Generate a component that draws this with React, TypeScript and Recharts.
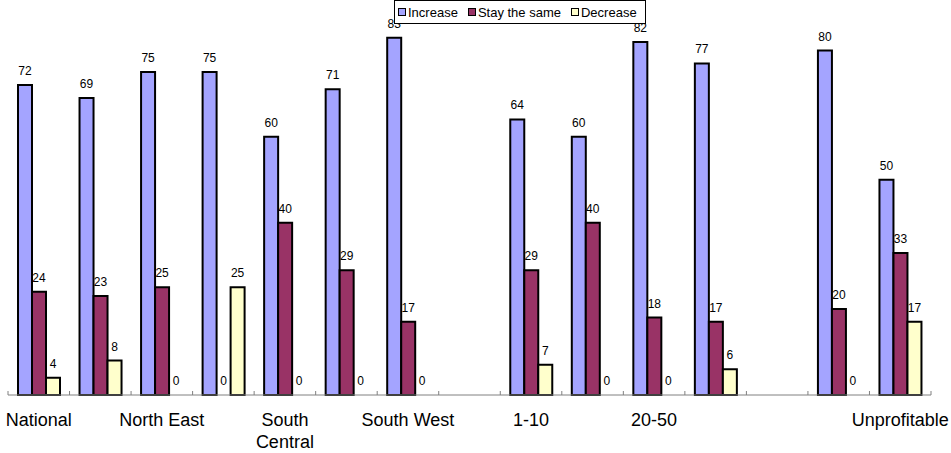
import { BarChart, Bar, XAxis, YAxis, Legend, LabelList, Cell } from "recharts";

// categories (Excel only printed every second label)
const categories = [
  "National", "", "North East", "", "South Central", "", "South West", "",
  "1-10", "", "20-50", "", "", "", "Unprofitable",
];
const increase = [72, 69, 75, 75, 60, 71, 83, null, 64, 60, 82, 77, null, 80, 50];
const staySame = [24, 23, 25, 0, 40, 29, 17, null, 29, 40, 18, 17, null, 20, 33];
const decrease = [4, 8, 0, 25, 0, 0, 0, null, 7, 0, 0, 6, null, 0, 17];
const seriesNames = ["Increase", "Stay the same", "Decrease"];

const W = 951;
const H = 453;
const MARGIN = { top: 7.5, right: 20, bottom: 0, left: 8 };
const BAND = (W - MARGIN.left - MARGIN.right) / categories.length;
const FONT = '"Liberation Sans", Arial, sans-serif';

const data = categories.map((name, i) => ({
  name,
  increase: increase[i],
  same: staySame[i],
  decrease: decrease[i],
}));

// tick marks sit on the category boundaries, pointing up into the plot
const CategoryTick = (props: any) => {
  const { x, y, payload, index } = props;
  const last = index === categories.length - 1;
  const label: string = payload.value || "";
  // long labels wrap onto two lines like in Excel
  const lines = label.length * 9 > 100 && label.includes(" ") ? label.split(" ") : [label];
  return (
    <g>
      <line x1={x - BAND / 2} x2={x - BAND / 2} y1={y} y2={y - 4} stroke="#808080" />
      {last && <line x1={x + BAND / 2} x2={x + BAND / 2} y1={y} y2={y - 4} stroke="#808080" />}
      {label && (
        <text x={x} y={y + 31} textAnchor="middle" fontSize={18} fontFamily={FONT} fill="#000">
          {lines.map((l, i) => (
            <tspan key={i} x={x} dy={i === 0 ? 0 : 22}>
              {l}
            </tspan>
          ))}
        </text>
      )}
    </g>
  );
};

const LegendBox = ({ payload }: any) => {
  const items = [...(payload || [])].sort(
    (a: any, b: any) => seriesNames.indexOf(a.value) - seriesNames.indexOf(b.value)
  );
  return (
    <div
      style={{
        display: "flex",
        alignItems: "center",
        height: "100%",
        boxSizing: "border-box",
        border: "1px solid #000",
        background: "#fff",
        paddingLeft: 3,
        fontFamily: FONT,
        fontSize: 13,
        color: "#000",
        whiteSpace: "nowrap",
      }}
    >
      {items.map((p: any, i: number) => (
        <span key={i} style={{ display: "flex", alignItems: "center", marginRight: 10 }}>
          <span
            style={{
              width: 8,
              height: 8,
              boxSizing: "border-box",
              border: "1.5px solid #000",
              background: p.color,
              marginRight: 2,
            }}
          />
          {p.value}
        </span>
      ))}
    </div>
  );
};

// value label above each bar, zeros included
const renderValue = (props: any) => {
  const { x, y, width, value } = props;
  if (value === null || value === undefined) return null;
  return (
    <text
      x={Number(x) + Number(width) / 2}
      y={Number(y) - 10}
      textAnchor="middle"
      fontSize={12}
      fontFamily={FONT}
      fill="#000"
    >
      {value}
    </text>
  );
};

// zero bars get a hairline height so their label is kept, but no outline
const zeroMin = (value: any) => (value === 0 ? 0.01 : 0);

const outlineCells = (values: (number | null)[]) =>
  values.map((v, i) => <Cell key={i} stroke={v === 0 ? "none" : "#000"} />);

export default function App() {
  return (
    <div style={{ position: "absolute", left: 0, top: 0 }}>
      <BarChart width={W} height={H} data={data} margin={MARGIN} barGap={0}>
        <XAxis
          dataKey="name"
          interval={0}
          tickSize={0}
          tickMargin={0}
          tickLine={false}
          height={58}
          axisLine={{ stroke: "#808080" }}
          tick={<CategoryTick />}
        />
        <YAxis hide domain={[0, 90]} />
        <Legend
          layout="horizontal"
          verticalAlign="middle"
          align="center"
          content={<LegendBox />}
          wrapperStyle={{ left: 394, top: 0, width: 252, height: 24 }}
        />
        <Bar dataKey="increase" name="Increase" fill="#A4A4FF" stroke="#000" strokeWidth={2} barSize={14} minPointSize={zeroMin} isAnimationActive={false}>
          {outlineCells(increase)}
          <LabelList dataKey="increase" content={renderValue} />
        </Bar>
        <Bar dataKey="same" name="Stay the same" fill="#993366" stroke="#000" strokeWidth={2} barSize={14} minPointSize={zeroMin} isAnimationActive={false}>
          {outlineCells(staySame)}
          <LabelList dataKey="same" content={renderValue} />
        </Bar>
        <Bar dataKey="decrease" name="Decrease" fill="#FFFFCC" stroke="#000" strokeWidth={2} barSize={14} minPointSize={zeroMin} isAnimationActive={false}>
          {outlineCells(decrease)}
          <LabelList dataKey="decrease" content={renderValue} />
        </Bar>
      </BarChart>
    </div>
  );
}
